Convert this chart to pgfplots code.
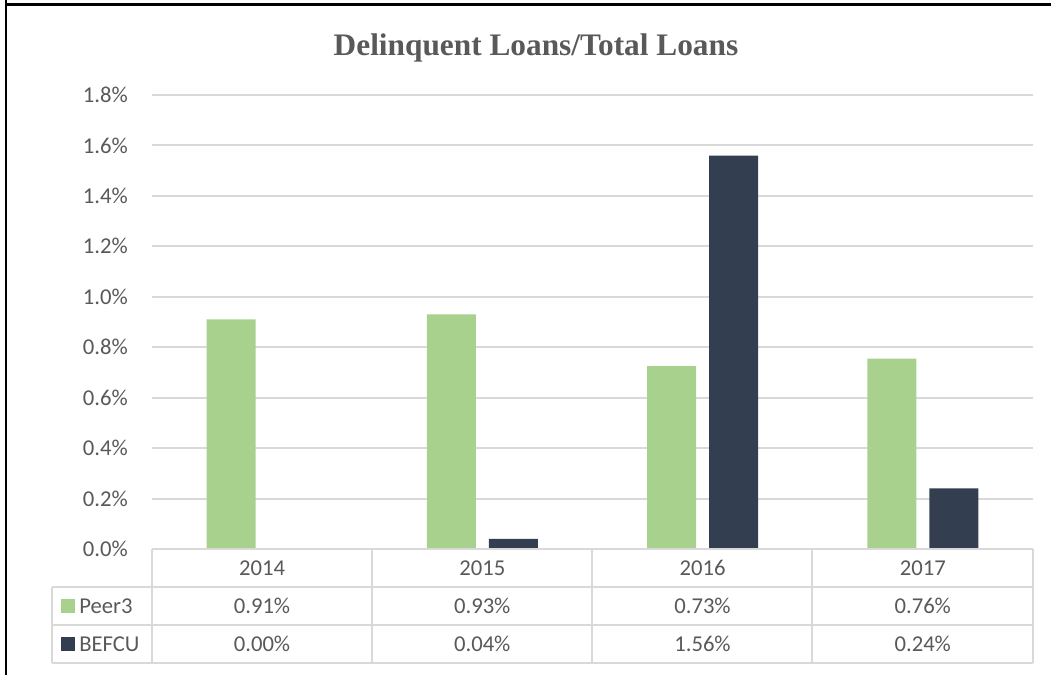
\documentclass[border=0pt]{standalone}
\usepackage{pgfplots}
\pgfplotsset{compat=1.18}
\usepackage{fontspec}
\setmainfont{Carlito}
\newfontfamily\titlefont{Liberation Serif}
\definecolor{txt}{HTML}{595959}
\definecolor{gridc}{HTML}{D9D9D9}
\definecolor{peer}{HTML}{A9D18E}
\definecolor{befcu}{HTML}{333F50}
\begin{document}
\begin{tikzpicture}
\useasboundingbox (0,0) rectangle (788.25pt,506.25pt);
\begin{axis}[
    at={(114pt,94.5pt)}, anchor=south west,
    scale only axis, width=660.75pt, height=340.5pt,
    ybar=9.75pt, bar width=36.75pt,
    xmin=-0.5, xmax=3.5, ymin=0, ymax=1.8,
    xtick={0,1,2,3}, xticklabels={2014,2015,2016,2017},
    ytick={0,0.2,...,1.8},
    yticklabel={\pgfmathprintnumber[fixed,fixed zerofill,precision=1]{\tick}\%},
    /pgf/number format/assume math mode=true,
    axis line style={draw=none},
    major tick length=0pt,
    ymajorgrids, grid style={gridc, line width=1.5pt},
    yticklabel style={anchor=east, inner sep=0pt, xshift=-18pt, font=\fontsize{17pt}{20pt}\selectfont, text=txt},
    xticklabel style={anchor=center, inner sep=0pt, yshift=-14.25pt, font=\fontsize{17pt}{20pt}\selectfont, text=txt},
    clip=false,
]
\addplot[fill=peer, draw=none] coordinates {(0,0.91) (1,0.93) (2,0.725) (3,0.755)};
\addplot[fill=befcu, draw=none] coordinates {(0,0) (1,0.04) (2,1.56) (3,0.24)};
\end{axis}
\begin{scope}[x=0.75pt, y=0.75pt]
  % title
  \node[anchor=base, text=txt, font=\titlefont\bfseries\fontsize{23.5pt}{28pt}\selectfont] at (536,619) {Delinquent Loans/Total Loans};
  % frame
  \draw[black, line width=1.9pt] (6,675) -- (6,670.5) -- (1051,670.5);
  \draw[black, line width=1.9pt] (6,670.5) -- (6,0);
  % data table
  \begin{scope}[gridc, line width=1.5pt]
    \draw (152,126) -- (1033,126);
    \draw (52,88) -- (1033,88);
    \draw (52,50) -- (1033,50);
    \draw (52,12) -- (1033,12);
    \draw (52,88) -- (52,12);
    \foreach \xx in {152,372,592,812,1033} \draw (\xx,126) -- (\xx,12);
  \end{scope}
  \fill[peer] (61,62) rectangle (75,76);
  \fill[befcu] (61,24) rectangle (75,38);
  \begin{scope}[font=\fontsize{17pt}{20pt}\selectfont, text=txt]
    \node[anchor=west, inner sep=0pt] at (79,69) {Peer3};
    \node[anchor=west, inner sep=0pt] at (79,31) {BEFCU};
    \node at (262,69) {0.91\%};
    \node at (482.25,69) {0.93\%};
    \node at (702.5,69) {0.73\%};
    \node at (922.75,69) {0.76\%};
    \node at (262,31) {0.00\%};
    \node at (482.25,31) {0.04\%};
    \node at (702.5,31) {1.56\%};
    \node at (922.75,31) {0.24\%};
  \end{scope}
\end{scope}
\end{tikzpicture}
\end{document}
